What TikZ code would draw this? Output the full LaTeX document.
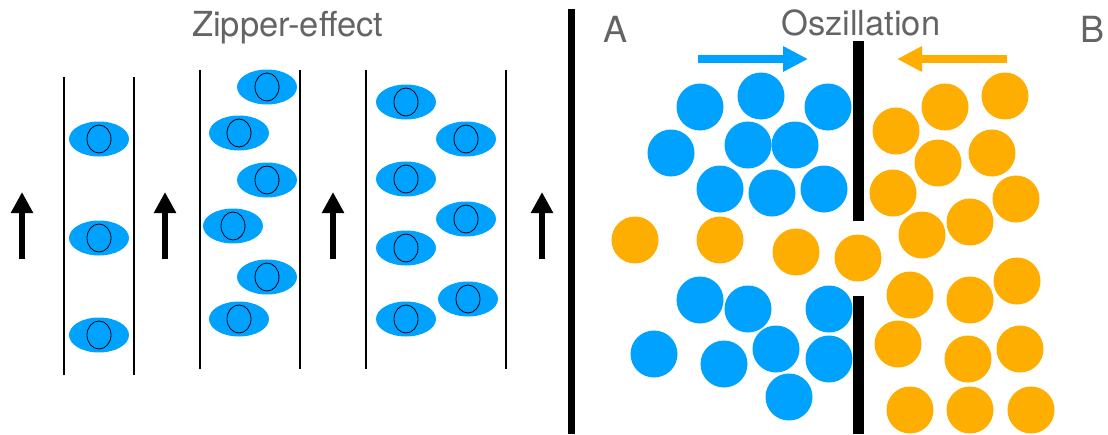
\documentclass[tikz,border=0pt]{standalone}
\usepackage{fontspec}
\setmainfont{TeX Gyre Heros}
\usetikzlibrary{arrows.meta,shapes.geometric}
\definecolor{molblue}{RGB}{0,162,255}
\definecolor{molorange}{RGB}{254,174,0}
\definecolor{labelgray}{RGB}{100,100,100}
\begin{document}
\begin{tikzpicture}[x=1pt,y=-1pt,
  wall/.style={line width=2pt,black},
  mol/.style={ellipse,fill=molblue,draw=none,minimum width=60pt,minimum height=35pt,inner sep=0pt,
    path picture={\draw[line width=0.8pt,black] (path picture bounding box.center) ellipse (12 and 14);}},
  ballA/.style={circle,fill=molblue,minimum size=47pt,inner sep=0pt},
  ballB/.style={circle,fill=molorange,minimum size=47pt,inner sep=0pt},
  flow/.style={line width=5.5pt,black,-{Triangle[length=21pt,width=21pt]}},
  title/.style={text=labelgray,font=\fontsize{34.5}{40}\selectfont,anchor=base west,inner sep=0pt},
  side/.style={text=labelgray,font=\fontsize{36}{42}\selectfont,anchor=base west,inner sep=0pt},
  bar/.style={fill=black,draw=none}
]
\useasboundingbox[fill=white] (0,0) rectangle (1108,434);

% ---------- left panel: zipper effect ----------
\node[title] (zip) at (192,36) {Zipper-effect};

% channel walls
\draw[wall] (64,77) -- (64,375);
\draw[wall] (134,77) -- (134,375);
\draw[wall] (200,70) -- (200,369);
\draw[wall] (300,70) -- (300,369);
\draw[wall] (366,70) -- (366,369);
\draw[wall] (506,70) -- (506,369);

% flow direction arrows
\foreach \i/\x in {1/22,2/165,3/333,4/542}{
  \coordinate (f\i s) at (\x,259);
  \coordinate (f\i e) at (\x,192);
  \draw[flow] (f\i s) -- (f\i e);
}

% molecules in the first channel
\node[mol] (m11) at (99,139) {};
\node[mol] (m12) at (99,238) {};
\node[mol] (m13) at (99,335) {};

% molecules in the second channel
\node[mol] (m21) at (267,87) {};
\node[mol] (m22) at (239,133) {};
\node[mol] (m23) at (267,180) {};
\node[mol] (m24) at (233,226) {};
\node[mol] (m25) at (267,277) {};
\node[mol] (m26) at (239,319) {};

% molecules in the third channel
\node[mol] (m31) at (406,102) {};
\node[mol] (m32) at (466,139) {};
\node[mol] (m33) at (406,179) {};
\node[mol] (m34) at (466,219) {};
\node[mol] (m35) at (406,248) {};
\node[mol] (m36) at (468,299) {};
\node[mol] (m37) at (406,319) {};

% ---------- right panel: oscillation ----------
\path[bar] (568,9) rectangle (575,434);
\path[bar] (853,41) rectangle (864,221);
\path[bar] (853,296) rectangle (864,434);

\node[side] (lA) at (603,42) {A};
\node[side] (lB) at (1080,42) {B};
\node[title] (osz) at (781,35) {Oszillation};

\coordinate (ba) at (698,59);
\coordinate (be) at (808,59);
\draw[line width=8pt,molblue,-{Triangle[length=25pt,width=24pt]}] (ba) -- (be);
\coordinate (oa) at (1007,59);
\coordinate (oe) at (897,59);
\draw[line width=8pt,molorange,-{Triangle[length=25pt,width=24pt]}] (oa) -- (oe);

% side A, upper compartment
\node[ballA] (a1) at (700,107) {};
\node[ballA] (a2) at (761,96) {};
\node[ballA] (a3) at (828,107) {};
\node[ballA] (a4) at (671,153) {};
\node[ballA] (a5) at (748,145) {};
\node[ballA] (a6) at (795,145) {};
\node[ballA] (a7) at (720,189) {};
\node[ballA] (a8) at (772,193) {};
\node[ballA] (a9) at (824,189) {};

% side A, lower compartment
\node[ballA] (a10) at (700,300) {};
\node[ballA] (a11) at (748,309) {};
\node[ballA] (a12) at (829,309) {};
\node[ballA] (a13) at (654,354) {};
\node[ballA] (a14) at (724,364) {};
\node[ballA] (a15) at (776,349) {};
\node[ballA] (a16) at (829,359) {};
\node[ballA] (a17) at (789,397) {};

% particles of B that passed the gap
\node[ballB] (b1) at (635,240) {};
\node[ballB] (b2) at (720,240) {};
\node[ballB] (b3) at (796,252) {};
\node[ballB] (b4) at (858,258) {};

% side B
\node[ballB] (b5) at (896,131) {};
\node[ballB] (b6) at (945,107) {};
\node[ballB] (b7) at (1005,96) {};
\node[ballB] (b8) at (938,163) {};
\node[ballB] (b9) at (992,153) {};
\node[ballB] (b10) at (893,193) {};
\node[ballB] (b11) at (1016,199) {};
\node[ballB] (b12) at (970,222) {};
\node[ballB] (b13) at (922,235) {};
\node[ballB] (b14) at (910,295) {};
\node[ballB] (b15) at (970,300) {};
\node[ballB] (b16) at (1017,281) {};
\node[ballB] (b17) at (898,344) {};
\node[ballB] (b18) at (968,359) {};
\node[ballB] (b19) at (1020,349) {};
\node[ballB] (b20) at (910,410) {};
\node[ballB] (b21) at (970,410) {};
\node[ballB] (b22) at (1031,410) {};
\end{tikzpicture}
\end{document}
